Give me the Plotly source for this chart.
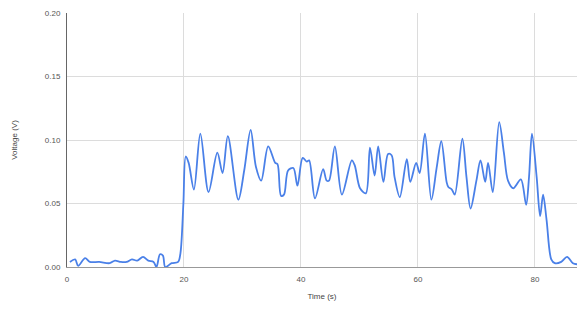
import plotly.graph_objects as go

# Sampled sensor trace: time (s) and measured voltage (V)
time_s = [0.5, 1.4, 1.9, 3.1, 3.9, 5.5, 7.3, 8.2, 9.2, 10.2, 11.1, 12.0, 13.0, 13.9,
          14.8, 15.3, 15.9, 16.4, 16.8, 17.9, 19.0, 19.4, 19.9, 20.3, 20.8, 21.7,
          22.8, 24.2, 25.7, 26.6, 27.5, 29.3, 30.3, 31.4, 32.3, 33.2, 34.4, 35.6,
          36.0, 36.6, 37.1, 37.8, 38.7, 39.4, 40.3, 41.0, 41.4, 42.4, 43.8, 44.4,
          44.8, 45.8, 47.0, 48.7, 49.2, 50.1, 51.1, 51.8, 52.6, 53.2, 54.1, 54.9,
          55.5, 56.0, 56.9, 58.1, 58.7, 59.7, 60.3, 61.2, 62.3, 63.2, 64.0, 64.9,
          65.2, 65.8, 66.3, 67.6, 68.3, 69.0, 70.0, 70.7, 71.5, 72.0, 72.8, 73.9,
          74.7, 75.4, 76.3, 77.6, 78.5, 79.0, 79.5, 80.3, 80.9, 81.4, 82.0, 82.8,
          83.4, 84.5, 85.5, 86.5, 87.5]
voltage_v = [0.004, 0.006, 0.001, 0.007, 0.004, 0.004, 0.003, 0.005, 0.004, 0.004,
             0.006, 0.005, 0.008, 0.005, 0.004, 0.000, 0.010, 0.009, 0.000, 0.003,
             0.004, 0.011, 0.050, 0.087, 0.082, 0.061, 0.105, 0.059, 0.090, 0.074,
             0.103, 0.053, 0.076, 0.108, 0.079, 0.068, 0.095, 0.082, 0.081, 0.056,
             0.057, 0.076, 0.078, 0.064, 0.086, 0.083, 0.084, 0.054, 0.077, 0.068,
             0.068, 0.095, 0.057, 0.084, 0.080, 0.062, 0.058, 0.094, 0.072, 0.095,
             0.067, 0.089, 0.088, 0.071, 0.055, 0.085, 0.067, 0.082, 0.074, 0.105,
             0.053, 0.078, 0.099, 0.067, 0.063, 0.061, 0.057, 0.101, 0.071, 0.046,
             0.068, 0.084, 0.067, 0.082, 0.059, 0.114, 0.090, 0.068, 0.062, 0.069,
             0.049, 0.071, 0.105, 0.071, 0.040, 0.057, 0.037, 0.006, 0.003, 0.004,
             0.008, 0.003, 0.002]

x_ticks = [0, 20, 40, 60, 80]
y_ticks = [0.00, 0.05, 0.10, 0.15, 0.20]

fig = go.Figure(go.Scatter(
    x=time_s, y=voltage_v, mode="lines",
    line=dict(color="#4a80e8", width=1.8, shape="spline", smoothing=0.9),
    hoverinfo="x+y", showlegend=False,
))

tick_font = dict(family="Liberation Sans, Arial, sans-serif", size=8, color="#555")

fig.update_layout(
    width=577, height=320,
    margin=dict(l=67, r=0, t=13, b=53),
    paper_bgcolor="white", plot_bgcolor="white",
    font=dict(family="Liberation Sans, Arial, sans-serif", size=8, color="#444"),
    xaxis=dict(
        range=[0, 87.2], tickvals=x_ticks, ticktext=[str(v) for v in x_ticks],
        showgrid=True, gridcolor="#dcdcdc", gridwidth=1,
        showline=True, linecolor="#999", linewidth=1,
        zeroline=False, ticks="", tickfont=tick_font, ticklabelstandoff=4,
        title=dict(text="Time (s)", font=dict(size=8, color="#444"), standoff=10),
    ),
    yaxis=dict(
        range=[0, 0.2], tickvals=y_ticks, ticktext=[f"{v:.2f}" for v in y_ticks],
        showgrid=True, gridcolor="#dcdcdc", gridwidth=1,
        showline=True, linecolor="#666", linewidth=1,
        zeroline=False, ticks="", tickfont=tick_font, ticklabelstandoff=4,
        title=dict(text="Voltage (V)", font=dict(size=8, color="#444"), standoff=26),
    ),
)

fig.write_html("out.html")
